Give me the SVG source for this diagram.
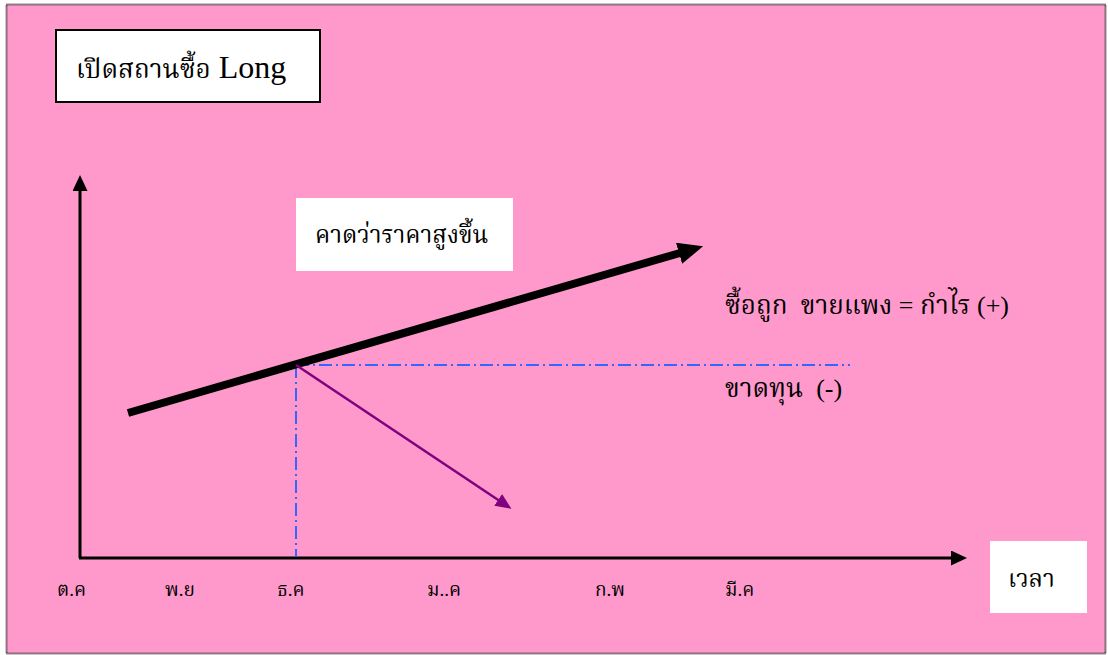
<svg xmlns="http://www.w3.org/2000/svg" width="1108" height="655" viewBox="0 0 1108 655">
<style>
.th{font-family:"Liberation Serif","Noto Serif Thai","Noto Sans Thai",serif;fill:#000}
.box{fill:#fff}
.dd{stroke:#3366FF;stroke-width:2;stroke-dasharray:13 4 2 4;fill:none}
.axis{stroke:#000;stroke-width:3;fill:none}
</style>
<defs>
<marker id="bigArrow" markerUnits="userSpaceOnUse" markerWidth="25" markerHeight="22" viewBox="0 0 25 22" refX="1" refY="11" orient="auto"><path d="M0,0 L25,11 L0,22 z" fill="#000"/></marker>
<marker id="axisArrow" markerUnits="userSpaceOnUse" markerWidth="16" markerHeight="15" viewBox="0 0 16 15" refX="1" refY="7.5" orient="auto"><path d="M0,0 L16,7.5 L0,15 z" fill="#000"/></marker>
<marker id="purpleArrow" markerUnits="userSpaceOnUse" markerWidth="16" markerHeight="14" viewBox="0 0 16 14" refX="1" refY="7" orient="auto"><path d="M0,0 L16,7 L0,14 z" fill="#800080"/></marker>
</defs>
<rect x="0" y="0" width="1108" height="655" fill="#fff"/>
<rect x="6.5" y="4.5" width="1099" height="649" fill="#FF99CC" stroke="#222" stroke-width="2" stroke-dasharray="1 1"/>

<g id="title">
<rect x="56" y="30" width="264" height="72" class="box" stroke="#000" stroke-width="2"/>
<text x="76" y="78" class="th"><tspan font-size="26">เปิดสถานซื้อ</tspan><tspan font-size="32"> Long</tspan></text>
</g>

<g id="connectors">
<line x1="80" y1="558" x2="80" y2="190" class="axis" marker-end="url(#axisArrow)"/>
<line x1="79" y1="558" x2="952" y2="558" class="axis" marker-end="url(#axisArrow)"/>
<line x1="296" y1="365" x2="850" y2="365" class="dd"/>
<line x1="296" y1="365" x2="296" y2="557" class="dd"/>
<line x1="128" y1="413" x2="680" y2="253" stroke="#000" stroke-width="8" marker-end="url(#bigArrow)"/>
<line x1="296" y1="365" x2="499" y2="500.5" stroke="#800080" stroke-width="2.5" marker-end="url(#purpleArrow)"/>
</g>

<g id="expect">
<rect x="296" y="198" width="217" height="73" class="box"/>
<text x="315" y="243" class="th" font-size="24">คาดว่าราคาสูงขึ้น</text>
</g>

<g id="profit">
<text x="725" y="314" class="th" font-size="26" xml:space="preserve">ซื้อถูก  ขายแพง = กำไร (+)</text>
</g>

<g id="loss">
<text x="725" y="397" class="th" font-size="26" xml:space="preserve">ขาดทุน  (-)</text>
</g>

<g id="time">
<rect x="990" y="541" width="97" height="72" class="box"/>
<text x="1008" y="587" class="th" font-size="24">เวลา</text>
</g>

<g id="months" class="th" font-size="19">
<text x="57" y="596">ต.ค</text>
<text x="165" y="596">พ.ย</text>
<text x="277" y="596">ธ.ค</text>
<text x="427" y="596">ม..ค</text>
<text x="595" y="596">ก.พ</text>
<text x="725" y="596">มี.ค</text>
</g>
</svg>
